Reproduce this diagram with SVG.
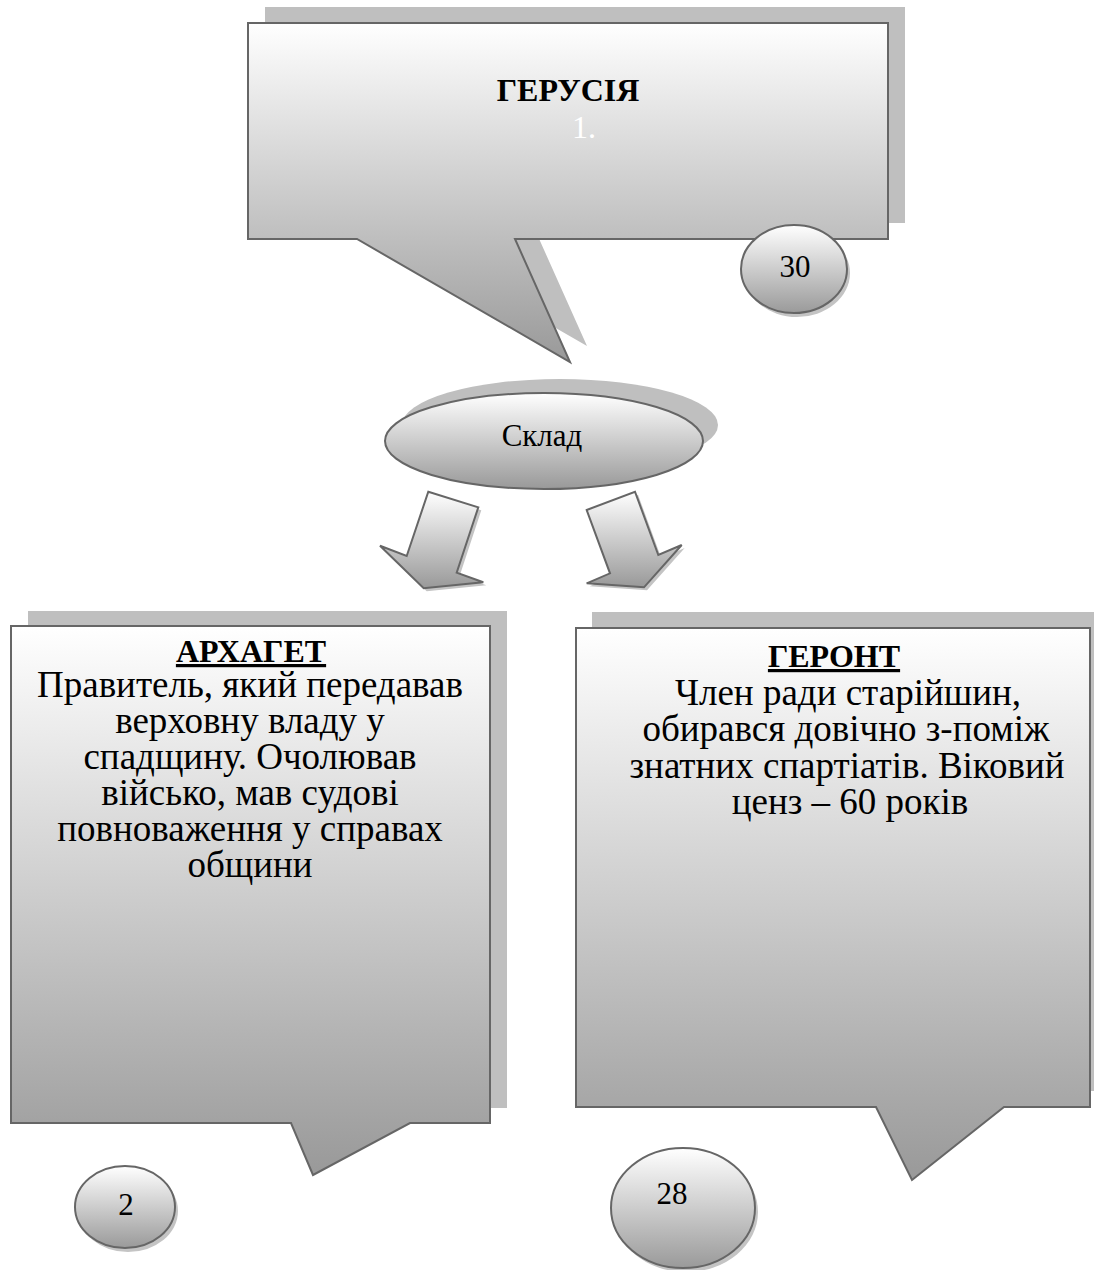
<svg xmlns="http://www.w3.org/2000/svg" width="1094" height="1270" viewBox="0 0 1094 1270">
<defs>
<linearGradient id="gShape" x1="0" y1="0" x2="0" y2="1">
<stop offset="0" stop-color="#ffffff"/>
<stop offset="1" stop-color="#999999"/>
</linearGradient>
<linearGradient id="gCircle" x1="0" y1="0" x2="0" y2="1">
<stop offset="0" stop-color="#ffffff"/>
<stop offset="1" stop-color="#9a9a9a"/>
</linearGradient>
</defs>
<style>
.shadow{fill:#bfbfbf;stroke:none}
.sshadow{fill:#c4c4c4;stroke:none}
.shape{fill:url(#gShape);stroke:#666666;stroke-width:2}
.circ{fill:url(#gCircle);stroke:#666666;stroke-width:2}
</style>
<rect width="1094" height="1270" fill="#ffffff"/>

<g id="gerusia">
<path class="shadow" transform="translate(17,-16)" d="M248,23 H888 V239 H515 L570,362 L357,239 H248 Z"/>
<path class="shape" d="M248,23 H888 V239 H515 L570,362 L357,239 H248 Z"/>
<text x="568" y="101" font-family="Liberation Serif, serif" font-size="32" font-weight="bold" text-anchor="middle" fill="#000000">ГЕРУСІЯ</text>
<text x="584" y="138" font-family="Liberation Serif, serif" font-size="32" text-anchor="middle" fill="#ffffff">1.</text>
</g>

<g id="count30">
<ellipse class="sshadow" cx="797" cy="273" rx="53" ry="44"/>
<ellipse class="circ" cx="794" cy="269" rx="53" ry="44"/>
<text x="795" y="277" font-family="Liberation Serif, serif" font-size="31" text-anchor="middle" fill="#000000">30</text>
</g>

<g id="sklad">
<ellipse class="shadow" cx="560" cy="425" rx="158" ry="46"/>
<ellipse class="shape" cx="544" cy="441" rx="159" ry="48"/>
<text x="542" y="446" font-family="Liberation Serif, serif" font-size="31" text-anchor="middle" fill="#000000">Склад</text>
</g>

<g id="connectors">
<polygon class="sshadow" transform="translate(3,3)" points="428.3,491.7 478.3,507.3 456.7,572.7 483.3,582.3 423.7,588.3 380,545.7 406.7,556"/>
<polygon class="shape" points="428.3,491.7 478.3,507.3 456.7,572.7 483.3,582.3 423.7,588.3 380,545.7 406.7,556"/>
<polygon class="sshadow" transform="translate(3,3)" points="586.7,510 635,491.7 658.3,555 681.7,545 644,587.3 586.7,583.3 610,573.3"/>
<polygon class="shape" points="586.7,510 635,491.7 658.3,555 681.7,545 644,587.3 586.7,583.3 610,573.3"/>
</g>

<g id="arkhaget">
<path class="shadow" transform="translate(17,-15)" d="M11,626 H490 V1123 H410 L313,1175 L291,1123 H11 Z"/>
<path class="shape" d="M11,626 H490 V1123 H410 L313,1175 L291,1123 H11 Z"/>
<text x="251" y="662" font-family="Liberation Serif, serif" font-size="32" font-weight="bold" text-anchor="middle" text-decoration="underline" fill="#000000">АРХАГЕТ</text>
<g font-family="Liberation Serif, serif" font-size="37" text-anchor="middle" fill="#000000">
<text x="250" y="697">Правитель, який передавав</text>
<text x="250" y="733">верховну владу у</text>
<text x="250" y="769">спадщину. Очолював</text>
<text x="250" y="805">військо, мав судові</text>
<text x="250" y="841">повноваження у справах</text>
<text x="250" y="877">общини</text>
</g>
</g>

<g id="geront">
<path class="shadow" transform="translate(16,-16)" d="M576,628 H1090 V1107 H1004 L912,1180 L876,1107 H576 Z"/>
<path class="shape" d="M576,628 H1090 V1107 H1004 L912,1180 L876,1107 H576 Z"/>
<text x="834" y="667" font-family="Liberation Serif, serif" font-size="32" font-weight="bold" text-anchor="middle" text-decoration="underline" fill="#000000">ГЕРОНТ</text>
<g font-family="Liberation Serif, serif" font-size="37" text-anchor="middle" fill="#000000">
<text x="848" y="705">Член ради старійшин,</text>
<text x="846" y="741">обирався довічно з-поміж</text>
<text x="847" y="778">знатних спартіатів. Віковий</text>
<text x="850" y="814">ценз – 60 років</text>
</g>
</g>

<g id="count2">
<ellipse class="sshadow" cx="128" cy="1211" rx="50" ry="41"/>
<ellipse class="circ" cx="125" cy="1207" rx="50" ry="41"/>
<text x="126" y="1215" font-family="Liberation Serif, serif" font-size="31" text-anchor="middle" fill="#000000">2</text>
</g>

<g id="count28">
<ellipse class="sshadow" cx="686" cy="1212" rx="72" ry="60"/>
<ellipse class="circ" cx="683" cy="1208" rx="72" ry="60"/>
<text x="672" y="1204" font-family="Liberation Serif, serif" font-size="31" text-anchor="middle" fill="#000000">28</text>
</g>
</svg>
